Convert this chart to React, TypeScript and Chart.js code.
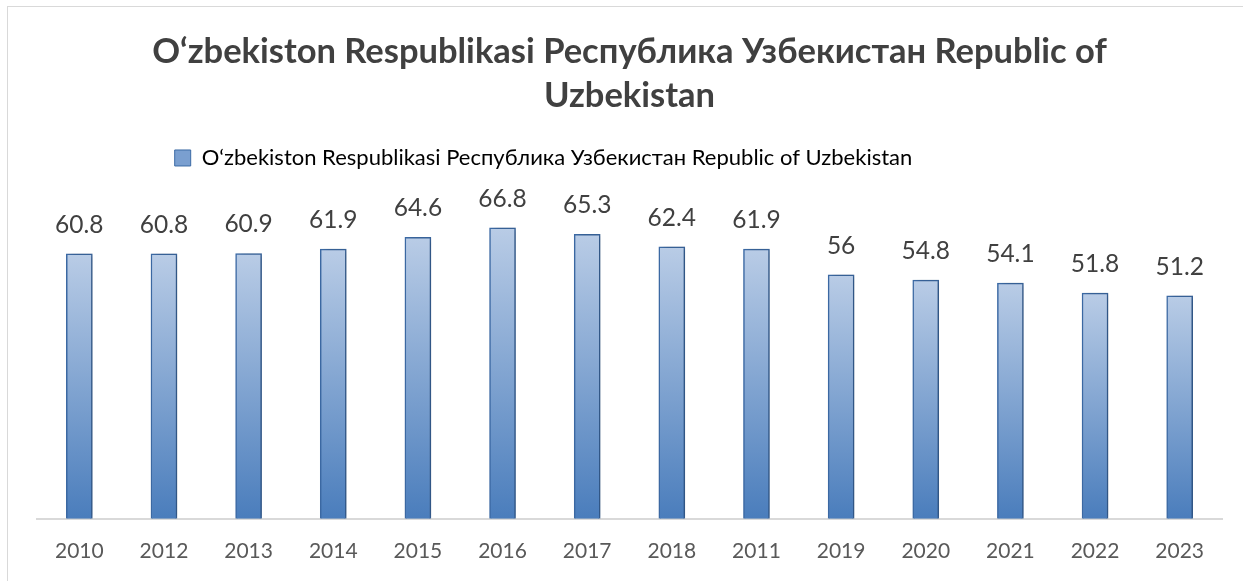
import React, { useEffect, useRef } from "react";
import { Chart, registerables } from "chart.js";

Chart.register(...registerables);

const categories = ["2010", "2012", "2013", "2014", "2015", "2016", "2017", "2018", "2011", "2019", "2020", "2021", "2022", "2023"];
const values = [60.8, 60.8, 60.9, 61.9, 64.6, 66.8, 65.3, 62.4, 61.9, 56, 54.8, 54.1, 51.8, 51.2];
const seriesName = "O‘zbekiston Respublikasi Республика Узбекистан Republic of Uzbekistan";
const titleLines = ["O‘zbekiston Respublikasi Республика Узбекистан Republic of", "Uzbekistan"];

const FONT = "Lato, 'Open Sans', sans-serif";

const shadowPlugin = {
  id: "barShadow",
  beforeDatasetsDraw(chart: any) {
    const ctx = chart.ctx;
    ctx.save();
    ctx.shadowColor = "rgba(0,0,0,0.22)";
    ctx.shadowBlur = 6;
    ctx.shadowOffsetX = 4;
    ctx.shadowOffsetY = 0;
  },
  afterDatasetsDraw(chart: any) {
    chart.ctx.restore();
  },
};

const legendShiftPlugin = {
  id: "legendShift",
  afterLayout(chart: any) {
    const lg = chart.legend;
    if (lg) {
      lg.left -= 86;
      lg.right -= 86;
    }
  },
};

const labelPlugin = {
  id: "valueLabels",
  afterDraw(chart: any) {
    const ctx = chart.ctx;
    const meta = chart.getDatasetMeta(0);
    ctx.save();
    ctx.font = `24.5px ${FONT}`;
    ctx.fillStyle = "#404040";
    ctx.textAlign = "center";
    ctx.textBaseline = "middle";
    meta.data.forEach((el: any, i: number) => {
      ctx.fillText(String(values[i]), el.x, el.y - 29);
    });
    ctx.restore();
  },
};

export default function App() {
  const ref = useRef<HTMLCanvasElement>(null);
  useEffect(() => {
    const canvas = ref.current!;
    const chart = new Chart(canvas, {
      type: "bar",
      data: {
        labels: categories,
        datasets: [
          {
            label: seriesName,
            data: values,
            backgroundColor: (c: any) => {
              const ch = c.chart;
              const y = ch.scales?.y;
              if (!y || c.dataIndex === undefined) return "#7a9fd0";
              const v = values[c.dataIndex];
              const top = y.getPixelForValue(v);
              const bot = y.getPixelForValue(0);
              if (!isFinite(top) || !isFinite(bot) || top === bot) return "#7a9fd0";
              const g = ch.ctx.createLinearGradient(0, top, 0, bot);
              g.addColorStop(0, "#b9cce6");
              g.addColorStop(1, "#4a7dbc");
              return g;
            },
            borderColor: "#3c6aa5",
            borderWidth: 1.5,
            barThickness: 26,
          },
        ],
      },
      options: {
        animation: false,
        responsive: false,
        layout: { padding: { left: 37, right: 21, top: 30, bottom: 5 } },
        plugins: {
          title: {
            display: true,
            text: titleLines,
            color: "#404040",
            font: { family: FONT, size: 34.5, weight: "bold", lineHeight: 1.275 },
            padding: { top: 0, bottom: 19 },
          },
          legend: {
            display: true,
            labels: {
              color: "#595959",
              font: { family: FONT, size: 22 },
              boxWidth: 16,
              boxHeight: 16,
              generateLabels: () => [
                {
                  text: seriesName,
                  fillStyle: "#7a9fd0",
                  strokeStyle: "#3c6aa5",
                  lineWidth: 1,
                  datasetIndex: 0,
                  hidden: false,
                } as any,
              ],
            },
          },
          tooltip: { enabled: false },
        },
        scales: {
          x: {
            grid: { display: false },
            border: { color: "#d9d9d9", width: 2 },
            ticks: { color: "#595959", font: { family: FONT, size: 21 }, padding: 12 },
          },
          y: { display: false, min: 0, max: 78 },
        },
      },
      plugins: [shadowPlugin, legendShiftPlugin, labelPlugin],
    });
    return () => chart.destroy();
  }, []);
  return (
    <div style={{ position: "absolute", left: 0, top: 0, width: 1243, height: 581, background: "#fff", overflow: "hidden" }}>
      <div style={{ position: "absolute", left: 7, top: 6, width: 1300, height: 700, border: "1px solid #d9d9d9", boxSizing: "border-box" }} />
      <canvas ref={ref} width={1243} height={581} style={{ position: "absolute", left: 0, top: 0 }} />
    </div>
  );
}
